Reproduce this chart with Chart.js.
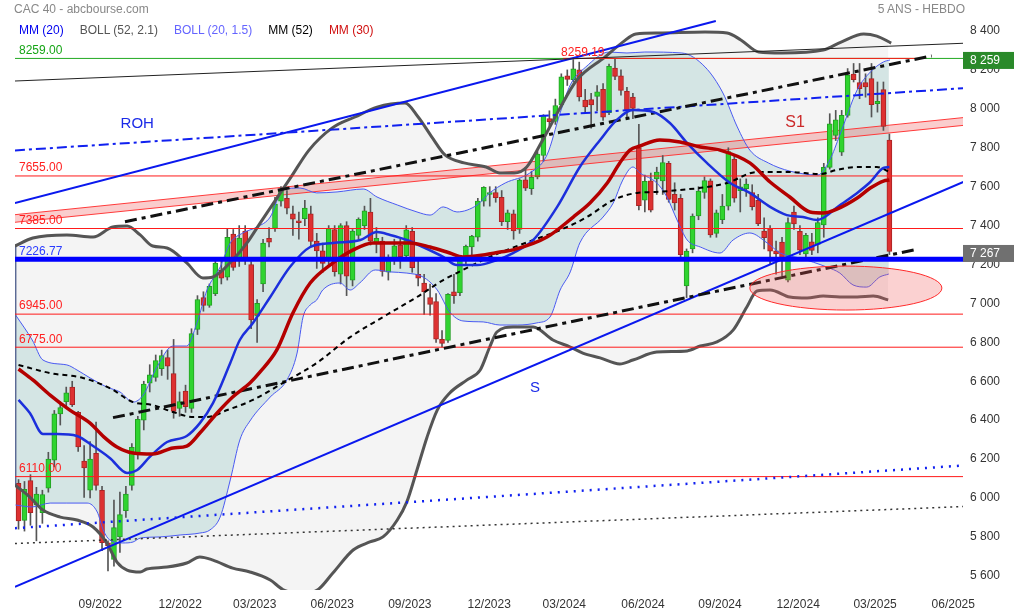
<!DOCTYPE html>
<html>
<head>
<meta charset="utf-8">
<title>CAC 40 - 5 ans hebdo</title>
<script src="https://cdn.jsdelivr.net/npm/chart.js@4.4.0/dist/chart.umd.min.js"></script>
<style>
  body { margin: 0; background: #fff; }
  #wrap { position: relative; width: 1014px; height: 613px; font-family: 'Liberation Sans', Arial, sans-serif; font-size: 12px; }
  #chart { position: absolute; left: 0; top: 0; }
  .hd { position: absolute; white-space: nowrap; line-height: 14px; }
  #title { left: 14px; top: 2px; color: #888; }
  #period { right: 49px; top: 2px; color: #888; }
  #legend { left: 19px; top: 23px; display: flex; gap: 16px; }
</style>
</head>
<body>
<div id="wrap">
  <canvas id="chart" width="1014" height="613"></canvas>
  <div class="hd" id="title">CAC 40 - abcbourse.com</div>
  <div class="hd" id="period">5 ANS - HEBDO</div>
  <div class="hd" id="legend">
    <span style="color:#0000ee">MM (20)</span>
    <span style="color:#555">BOLL (52, 2.1)</span>
    <span style="color:#6464ff">BOLL (20, 1.5)</span>
    <span style="color:#000">MM (52)</span>
    <span style="color:#d01010">MM (30)</span>
  </div>
</div>
<script>
// weekly candles, week 0 = mid June 2022
const opens = [6075,5885,6090,5965,5925,6050,6195,6432,6495,6570, 6440,6190,6040,6230,6040,5770,5685,5800,5935,6065,
  6230,6400,6590,6620,6665,6722,6640,6460,6550,6460, 6866,7030,6990,7050,7170,7135,7357,7232,7372,7200,
  6935,7100,7335,7385,7525,7540,7460,7425,7435,7460, 7320,7270,7225,7380,7150,7400,7120,7350,7400,7470,
  7310,7320,7160,7230,7300,7245,7370,7150,7105,7030, 7010,6815,6810,7060,7055,7235,7290,7340,7525,7560,
  7570,7545,7420,7460,7380,7635,7590,7650,7760,7950, 7935,8020,8170,8150,8200,8045,8047,8064,8100,7980,
  8210,8170,8090,8060,7800,7530,7630,7640,7630,7720, 7560,7540,7090,7280,7450,7570,7630,7360,7430,7500,
  7740,7579,7590,7570,7530,7372,7384,7270,7315,7120, 7470,7370,7255,7317,7303,7403,7699,7863,7777,7966,
  8178,8135,8135,8155,8026,8099,7840];
const highs = [6095,6085,6120,6055,6040,6235,6450,6494,6570,6600, 6445,6270,6290,6390,6060,5780,5990,6030,6060,6280,
  6420,6600,6685,6735,6760,6760,6815,6545,6580,6870, 7040,7060,7100,7220,7220,7385,7380,7400,7400,7215,
  7020,7330,7390,7545,7600,7580,7500,7470,7530,7500, 7360,7310,7400,7400,7410,7420,7380,7440,7500,7540,
  7390,7340,7250,7330,7330,7400,7390,7220,7150,7100, 7050,6860,7050,7150,7240,7300,7350,7540,7600,7600,
  7600,7580,7480,7480,7640,7690,7680,7780,7970,7990, 8050,8180,8200,8253,8240,8100,8080,8120,8130,8230,
  8259,8200,8110,8080,7920,7660,7670,7700,7760,7730, 7620,7560,7280,7460,7600,7650,7640,7480,7560,7800,
  7760,7640,7640,7610,7560,7440,7400,7320,7340,7440, 7500,7400,7360,7360,7440,7720,7975,7992,7992,8207,
  8233,8233,8180,8233,8138,8138,7871];
const lows = [5840,5830,5860,5780,5870,6030,6160,6375,6460,6470, 6240,6003,6000,6040,5730,5625,5650,5720,5900,6040,
  6200,6350,6545,6600,6630,6610,6410,6420,6440,6440, 6840,6960,6980,7040,7100,7120,7170,7190,7200,6870,
  6800,7060,7290,7370,7500,7460,7350,7330,7400,7290, 7180,7160,7190,7140,7100,7040,7090,7330,7380,7300,
  7260,7140,7120,7200,7180,7230,7160,7090,6943,6940, 6800,6775,6800,7000,7040,7200,7240,7320,7500,7500,
  7520,7400,7380,7330,7360,7580,7560,7640,7730,7910, 7920,8010,8120,8140,8040,7980,7900,7990,7940,7970,
  8150,8070,7960,7950,7480,7470,7470,7560,7560,7520, 7480,7240,7030,7260,7430,7540,7340,7340,7410,7480,
  7520,7470,7550,7480,7400,7280,7200,7150,7140,7110, 7380,7250,7230,7250,7260,7340,7690,7837,7760,7957,
  8138,8052,8060,7958,7983,7889,7251];
const closes = [5882,6045,5925,6020,6018,6200,6432,6465,6540,6480, 6262,6155,6200,6065,5770,5755,5848,5915,6020,6260,
  6405,6585,6633,6706,6732,6677,6445,6495,6470,6845, 7020,6990,7088,7207,7130,7340,7185,7336,7220,6915,
  7000,7310,7315,7510,7578,7490,7433,7415,7490,7319, 7270,7205,7385,7163,7400,7140,7372,7432,7476,7320,
  7335,7164,7229,7296,7240,7378,7184,7130,7060,6995, 6816,6795,7047,7040,7234,7293,7346,7526,7596,7569,
  7543,7420,7465,7372,7634,7592,7648,7768,7966,7934, 8017,8164,8151,8205,8061,8010,8020,8088,7957,8219,
  8167,8094,7992,8002,7503,7628,7479,7675,7724,7535, 7517,7251,7269,7449,7577,7631,7352,7465,7500,7780,
  7541,7599,7613,7497,7410,7338,7269,7255,7235,7415, 7409,7274,7350,7272,7415,7699,7923,7944,7966,8173,
  8150,8104,8112,8021,8038,7909,7267];

// indicators: [week, value]
const bb52Upper = [[-0.6,7295],[2.4,7336],[8.1,7352],[12.5,7341],[15.8,7393],[18.2,7398],[20.4,7352],[22.5,7295],[24.9,7285],
  [28.2,7208],[30.9,7131],[32.6,7136],[35.9,7223],[38.3,7311],[40.5,7413],[45.7,7650],[48.7,7788],[52.6,7902],[56.4,7958],
  [60.1,8009],[64.8,8030],[67.0,7958],[69.3,7855],[71.5,7763],[74.7,7722],[78.4,7701],[80.7,7670],[83.1,7670],[85.2,7701],
  [87.6,7824],[90.6,7994],[93.6,8148],[98.3,8266],[101.3,8343],[103.5,8385],[107.4,8390],[115.1,8395],[118.8,8390],
  [121.1,8354],[124.1,8292],[128.0,8287],[134.9,8302],[137.9,8343],[141.7,8385],[143.9,8374],[146.3,8338]];
const bb52Lower = [[-0.6,6067],[1.9,6005],[4.1,5938],[7.0,5902],[9.8,5887],[12.5,5851],[14.8,5769],[16.5,5671],[18.2,5630],
  [20.4,5620],[21.5,5635],[24.9,5645],[28.2,5666],[30.4,5697],[32.6,5681],[35.9,5640],[38.8,5620],[42.2,5579],[44.3,5530],
  [47.2,5510],[50.0,5525],[52.7,5615],[56.1,5733],[58.9,5774],[61.1,5800],[63.5,5887],[65.1,5980],[66.8,6144],[68.5,6314],
  [70.2,6452],[72.3,6540],[75.2,6607],[77.4,6658],[79.0,6776],[80.2,6853],[82.9,6879],[86.3,6879],[89.6,6812],[92.5,6776],
  [94.6,6745],[97.5,6720],[100.8,6689],[103.0,6709],[107.0,6750],[112.1,6756],[114.3,6781],[117.1,6802],[119.8,6863],
  [122.1,6982],[123.8,7064],[126.0,7069],[129.3,7033],[132.2,7028],[134.9,7038],[137.7,7033],[140.6,7033],[143.3,7038],[145.8,7018]];
const bb20Upper = [[-0.5,6941],[2.3,6812],[4.1,6709],[8.1,6684],[9.8,6658],[12.0,6617],[14.8,6570],[17.0,6545],[19.2,6493],
  [20.9,6529],[23.2,6673],[25.9,6781],[28.2,6781],[29.9,6899],[31.6,7069],[33.8,7187],[35.5,7311],[37.6,7362],[40.0,7393],
  [42.2,7444],[44.3,7583],[47.2,7593],[50.0,7568],[53.4,7573],[57.8,7588],[60.1,7547],[63.5,7506],[66.8,7470],[69.0,7454],
  [71.2,7496],[73.5,7470],[76.9,7506],[79.0,7568],[81.6,7619],[85.7,7670],[88.6,7763],[90.8,7979],[92.5,8123],[95.1,8215],
  [99.0,8292],[102.0,8287],[105.0,8292],[111.2,8287],[115.1,8215],[118.1,8081],[120.5,7907],[122.6,7788],[125.7,7722],
  [129.3,7680],[134.0,7660],[136.0,7737],[137.7,7866],[140.6,8097],[142.8,8189],[145.0,8241],[146.1,8251]];
const bb20Lower = [[-0.5,5964],[2.3,5954],[5.3,5974],[8.1,5974],[11.5,5974],[13.2,5928],[14.2,5836],[15.3,5784],[17.5,5769],
  [19.2,5774],[20.4,5794],[23.7,5800],[27.1,5810],[30.4,5820],[32.1,5836],[33.8,5902],[35.5,6093],[37.1,6298],[38.8,6396],
  [42.2,6519],[45.0,6607],[46.7,6745],[47.7,6930],[48.9,6992],[50.0,7018],[51.0,7069],[53.9,7105],[55.6,7069],[57.2,7105],
  [59.8,7172],[62.3,7162],[65.1,7156],[67.8,7136],[70.2,7069],[72.3,6956],[74.5,6910],[77.9,6905],[80.7,6889],[83.6,6889],
  [86.9,6900],[89.1,6930],[90.8,7069],[92.5,7162],[94.1,7311],[98.0,7444],[99.7,7516],[101.3,7634],[103.0,7701],[104.2,7670],
  [107.0,7619],[108.7,7547],[110.4,7429],[112.1,7326],[114.3,7290],[117.6,7259],[119.8,7326],[122.6,7362],[125.5,7311],
  [127.7,7259],[131.0,7233],[135.5,7187],[137.7,7156],[139.9,7095],[142.2,7084],[144.4,7136],[145.9,7151]];
const mm20 = [[0,6504],[1.9,6437],[4.1,6329],[6.5,6329],[9.8,6319],[12.5,6267],[15.3,6206],[18.2,6129],[19.9,6144],[22.0,6211],
  [24.9,6288],[28.2,6319],[30.4,6385],[32.6,6488],[35.5,6694],[37.1,6812],[39.3,6899],[42.2,7033],[45.5,7187],[48.9,7290],
  [52.7,7311],[57.3,7326],[60.1,7367],[62.3,7352],[65.1,7326],[67.8,7290],[71.2,7239],[73.5,7197],[76.9,7197],[80.2,7223],
  [82.9,7259],[86.3,7326],[90.3,7496],[94.1,7701],[97.5,7840],[100.3,7943],[103.0,7994],[106.4,7984],[109.2,7927],[112.1,7824],
  [115.4,7722],[119.3,7619],[122.6,7568],[126.0,7496],[128.8,7454],[131.5,7444],[133.9,7429],[134.9,7439],[137.3,7496],
  [140.6,7568],[142.8,7624],[145.0,7696],[146.0,7701]];
const mm30 = [[0,6663],[2.4,6607],[5.3,6529],[8.6,6452],[12.0,6385],[14.3,6314],[16.5,6262],[19.2,6231],[22.5,6226],[25.9,6257],
  [28.2,6267],[30.4,6334],[33.3,6437],[35.9,6519],[38.8,6591],[40.5,6648],[43.3,6761],[46.0,6951],[48.9,7105],[52.7,7208],
  [56.1,7275],[59.4,7311],[62.8,7311],[65.6,7311],[69.0,7290],[72.3,7259],[74.5,7239],[77.9,7249],[80.7,7264],[82.9,7275],
  [88.6,7341],[93.0,7444],[95.8,7516],[98.7,7619],[100.8,7722],[102.5,7788],[104.2,7809],[107.5,7840],[110.9,7830],
  [114.3,7804],[117.6,7788],[122.6,7722],[126.0,7624],[129.3,7547],[132.7,7470],[134.9,7465],[137.2,7485],[140.6,7542],
  [142.8,7593],[145.0,7629],[146.0,7634]];
const mm52 = [[0,6684],[5.3,6642],[10.8,6617],[15.3,6565],[19.2,6493],[22.5,6478],[25.9,6442],[29.3,6416],[31.6,6416],[35.0,6452],
  [39.3,6504],[44.3,6591],[50.0,6694],[55.6,6827],[61.1,6930],[66.8,7033],[71.2,7120],[74.5,7172],[79.0,7239],[81.9,7275],
  [86.3,7326],[90.8,7377],[95.3,7444],[99.7,7531],[103.7,7568],[107.0,7573],[110.9,7583],[115.4,7598],[118.8,7619],
  [123.8,7675],[129.3,7675],[134.4,7665],[137.2,7686],[140.6,7701],[143.9,7701],[146.1,7675]];

// drawn lines: [week, value] end points
const rohTop = [[-0.6,7516],[116.9,8451]];
const supportS = [[-0.6,5543],[158.4,7624]];
const rohMid = [[-0.6,7786],[158.4,8106]];
const blueDotted = [[-0.6,5845],[158.4,6167]];
const blackDotted = [[-0.6,5766],[158.4,5956]];
const blackThin = [[-0.6,8143],[158.4,8337]];
const channelHigh = [[17.85,7420],[153.1,8272]];
const channelLow = [[15.84,6413],[150.6,7278]];
const s1Upper = [[-0.6,7456],[158.4,7955]];
const s1Lower = [[-0.6,7417],[158.4,7915]];

const redLevels = [7655, 7385, 6945, 6775, 6110];
const blueLevel = 7226.77;
const greenLevel = 8259;
const athLevel = 8259.19;
const athSpan = [91.3, 151.1];
const lastPrice = 7267;
const zone = [138.7, 7079, 16.1, 113];   // centre week, centre value, half width (weeks), half height (points)
const notes = [['ROH', 19.9, 7922], ['S', 86.6, 6565], ['S1', 130.2, 7927], ['8259.19', 94.6, 8290]];

const xTickPos = [13.7, 27.1, 39.6, 52.6, 65.6, 78.9, 91.5, 104.7, 117.6, 130.7, 143.6, 156.7];
const xTickLabels = ['09/2022','12/2022','03/2023','06/2023','09/2023','12/2023','03/2024','06/2024','09/2024','12/2024','03/2025','06/2025'];
const yTicks = [5600, 5800, 6000, 6200, 6400, 6600, 6800, 7000, 7200, 7400, 7600, 7800, 8000, 8200, 8400];
const X_MIN = -0.59, X_MAX = 158.34, Y_MIN = 5527.3, Y_MAX = 8559.3;

Chart.defaults.font.family = "'Liberation Sans', Arial, sans-serif";
Chart.defaults.font.size = 12;
Chart.defaults.color = '#333';

const fmt = v => String(Math.round(v)).replace(/\B(?=(\d{3})+(?!\d))/g, ' ');
const pts = arr => arr.map(([px, py]) => ({ x: px, y: py }));
const flat = (v, x0 = X_MIN, x1 = X_MAX) => [{ x: x0, y: v }, { x: x1, y: v }];
const weeks = closes.map((_, i) => i);
const isUp = i => closes[i] >= opens[i];
const noPadding = s => { s.paddingTop = 0; s.paddingBottom = 0; s.paddingLeft = 0; s.paddingRight = 0; };

function line(data, color, width, extra = {}) {
    return Object.assign({
        type: 'line', data, borderColor: color, borderWidth: width,
        pointRadius: 0, pointHoverRadius: 0, fill: false, tension: 0
    }, extra);
}
const smooth = { cubicInterpolationMode: 'monotone' };

const datasets = [
    // band fills (below everything)
    line(pts(bb52Upper), 'rgba(0,0,0,0)', 0, { ...smooth, fill: '+1', backgroundColor: '#f4f4f4', order: 100 }),
    line(pts(bb52Lower), 'rgba(0,0,0,0)', 0, { ...smooth, order: 99 }),
    line(pts(bb20Upper), 'rgba(0,0,0,0)', 0, { ...smooth, fill: '+1', backgroundColor: '#d4e5e4', order: 98 }),
    line(pts(bb20Lower), 'rgba(0,0,0,0)', 0, { ...smooth, order: 97 }),
    line(pts(s1Upper), '#ff3a3a', 1, { fill: '+1', backgroundColor: 'rgba(240,90,90,0.3)', order: 96 }),
    line(pts(s1Lower), '#ff3a3a', 1, { order: 95 }),
    // candles
    {
        type: 'bar', data: weeks.map(i => ({ x: i, y: [lows[i], highs[i]] })),
        backgroundColor: '#555', barThickness: 1, grouped: false, order: 70
    },
    {
        type: 'bar', data: weeks.map(i => ({ x: i, y: [opens[i], closes[i]] })),
        backgroundColor: weeks.map(i => isUp(i) ? '#2fd42f' : '#dd3131'),
        borderColor: weeks.map(i => isUp(i) ? '#23a023' : '#a82424'),
        borderWidth: 1, borderSkipped: false, barThickness: 5, grouped: false, order: 69
    },
    // band strokes
    line(pts(bb20Upper), '#4a5af2', 1, { ...smooth, order: 60 }),
    line(pts(bb20Lower), '#4a5af2', 1, { ...smooth, order: 60 }),
    line(pts(bb52Upper), '#555', 3, { ...smooth, order: 55 }),
    line(pts(bb52Lower), '#555', 3, { ...smooth, order: 55 }),
    line([{ x: bb52Lower[0][0], y: bb52Lower[0][1] }, { x: bb52Upper[0][0], y: bb52Upper[0][1] }], '#5b6a95', 3, { order: 55 }),
    // levels
    ...redLevels.map(v => line(flat(v), '#ff1a1a', 1, { order: 50 })),
    line(flat(greenLevel), '#22aa22', 1, { order: 50 }),
    line(flat(athLevel, athSpan[0], athSpan[1]), '#ff1a1a', 1, { order: 49 }),
    // trend lines
    line(pts(blackThin), '#222', 1, { order: 40 }),
    line(pts(blackDotted), '#333', 1.5, { borderDash: [2, 4], order: 40 }),
    line(pts(blueDotted), '#1020f0', 2.5, { borderDash: [2, 6], order: 40 }),
    line(pts(rohMid), '#1020f0', 2, { borderDash: [10, 4, 3, 4], order: 40 }),
    line(pts(rohTop), '#0a18ee', 2, { order: 40 }),
    line(pts(supportS), '#0a18ee', 2, { order: 40 }),
    line(pts(channelHigh), '#111', 3, { borderDash: [12, 5, 4, 5], order: 39 }),
    line(pts(channelLow), '#111', 3, { borderDash: [12, 5, 4, 5], order: 39 }),
    // moving averages
    line(pts(mm52), '#000', 2, { ...smooth, borderDash: [5, 4], order: 30 }),
    line(pts(mm20), '#1c2fdc', 2.5, { ...smooth, order: 22 }),
    line(pts(mm30), '#b40000', 3.5, { ...smooth, order: 20 }),
    // support 7226.77
    line(flat(blueLevel), '#0000ff', 5, { order: 5 })
];

const overlay = {
    id: 'overlay',
    afterDatasetsDraw(chart) {
        const { ctx, chartArea: a, scales: { x, y } } = chart;
        ctx.save();
        ctx.beginPath();
        ctx.rect(a.left, a.top, a.right - a.left, a.bottom - a.top);
        ctx.clip();
        const cx = x.getPixelForValue(zone[0]), cy = y.getPixelForValue(zone[1]);
        const rx = x.getPixelForValue(zone[0] + zone[2]) - cx;
        const ry = cy - y.getPixelForValue(zone[1] + zone[3]);
        ctx.beginPath();
        ctx.ellipse(cx, cy, rx, ry, 0, 0, Math.PI * 2);
        ctx.fillStyle = 'rgba(240,90,90,0.28)';
        ctx.fill();
        ctx.strokeStyle = '#ff2a2a';
        ctx.lineWidth = 1;
        ctx.stroke();
        ctx.restore();

        ctx.save();
        ctx.font = "12px 'Liberation Sans', Arial, sans-serif";
        ctx.textAlign = 'left';
        ctx.textBaseline = 'bottom';
        const label = (v, c) => {
            ctx.fillStyle = c;
            ctx.fillText(v.toFixed(2), 19, y.getPixelForValue(v) - 2);
        };
        label(greenLevel, '#16a516');
        redLevels.forEach(v => label(v, '#ff2020'));
        label(blueLevel, '#2a3cff');

        ctx.textAlign = 'center';
        ctx.textBaseline = 'middle';
        const noteStyle = {
            'ROH': ['#1a2ae8', 15], 'S': ['#1a2ae8', 15], 'S1': ['#cc2a2a', 16], '8259.19': ['#ff2020', 12]
        };
        notes.forEach(([t, nx, ny]) => {
            const [c, size] = noteStyle[t];
            ctx.fillStyle = c;
            ctx.font = size + "px 'Liberation Sans', Arial, sans-serif";
            ctx.fillText(t, x.getPixelForValue(nx), y.getPixelForValue(ny));
        });
        ctx.restore();
    },
    afterDraw(chart) {
        const { ctx, chartArea: a, scales: { y } } = chart;
        ctx.save();
        ctx.font = "12px 'Liberation Sans', Arial, sans-serif";
        ctx.textAlign = 'left';
        ctx.textBaseline = 'middle';
        const tag = (v, bg) => {
            const py = y.getPixelForValue(v) + 2;
            ctx.fillStyle = bg;
            ctx.fillRect(a.right, py - 8.5, chart.width - a.right, 17);
            ctx.fillStyle = '#fff';
            ctx.fillText(fmt(v), a.right + 7, py);
        };
        tag(greenLevel, '#2a8a2a');
        tag(lastPrice, '#707070');
        ctx.restore();
    }
};

new Chart(document.getElementById('chart'), {
    type: 'bar',
    data: { datasets },
    options: {
        responsive: false,
        animation: false,
        events: [],
        layout: { padding: { left: 15, top: 0, right: 0, bottom: 0 } },
        plugins: { legend: { display: false }, tooltip: { enabled: false } },
        scales: {
            x: {
                type: 'linear', min: X_MIN, max: X_MAX, offset: false,
                grid: { display: false, drawTicks: false }, border: { display: false },
                afterBuildTicks: s => { s.ticks = xTickPos.map(v => ({ value: v })); },
                afterFit: s => { s.height = 23; noPadding(s); },
                ticks: { autoSkip: false, maxRotation: 0, minRotation: 0, padding: 7, color: '#333',
                         callback: (v, i) => xTickLabels[i] }
            },
            y: {
                type: 'linear', position: 'right', min: Y_MIN, max: Y_MAX,
                grid: { display: false, drawTicks: false }, border: { display: false },
                afterBuildTicks: s => { s.ticks = yTicks.map(v => ({ value: v })); },
                afterFit: s => { s.width = 51; noPadding(s); },
                ticks: { padding: 7, color: '#333', callback: v => fmt(v) }
            }
        }
    },
    plugins: [overlay]
});
</script>
</body>
</html>
